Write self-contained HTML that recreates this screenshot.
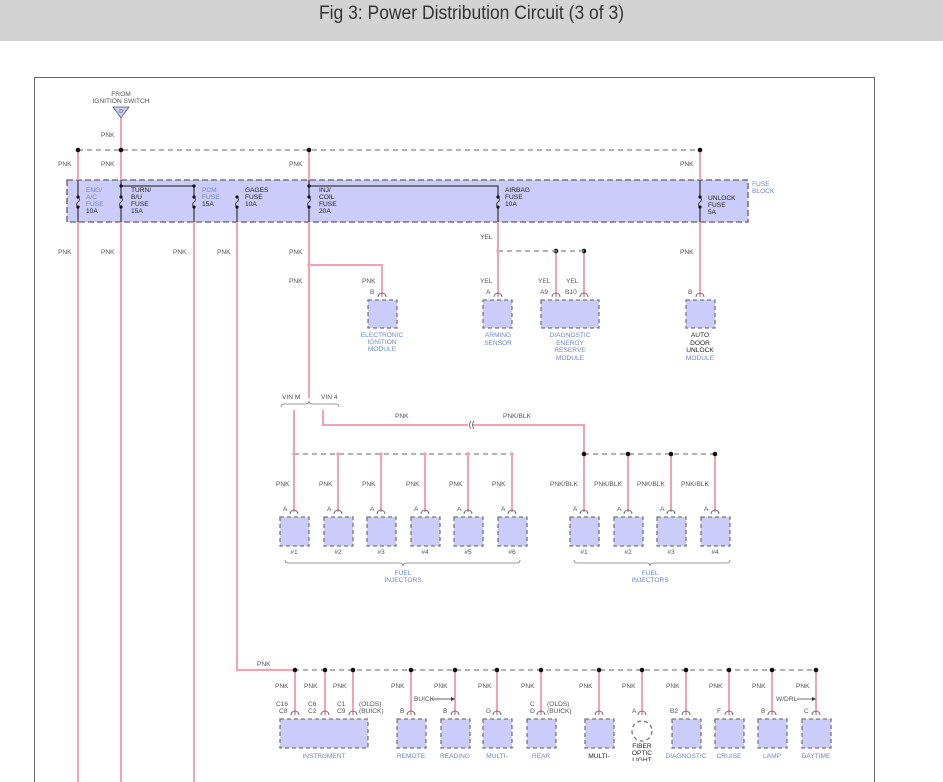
<!DOCTYPE html>
<html><head><meta charset="utf-8"><style>
html,body{margin:0;padding:0;background:#fff;}
body{width:943px;height:782px;overflow:hidden;position:relative;font-family:"Liberation Sans",sans-serif;}
.hdr{position:absolute;left:0;top:0;width:943px;height:41px;background:#d3d3d3;}
.hdr div{position:absolute;left:0;width:943px;top:3px;text-align:center;font-size:19px;color:#333;transform:scaleX(0.92);}
svg{position:absolute;left:0;top:0;}
svg text{font-family:"Liberation Sans",sans-serif;font-size:6.6px;fill:#555;}
.b{fill:#6f86c9 !important;}
.k{fill:#222 !important;}
.w{stroke:#f7a0b0;stroke-width:2;fill:none;}
.bl{stroke:#555;stroke-width:1.5;fill:none;}
.ds{stroke:#999;stroke-width:1.5;stroke-dasharray:5,4;fill:none;}
.bx{fill:#ccccfa;stroke:#777;stroke-width:1.3;stroke-dasharray:4,3;}
.c{fill:none;stroke:#555;stroke-width:0.8;}
</style></head><body>
<div class="hdr"><div>Fig 3: Power Distribution Circuit (3 of 3)</div></div>
<svg width="943" height="782" viewBox="0 0 943 782">
<path d="M34.5 782 V77.5 H874.5 V782" fill="none" stroke="#666" stroke-width="1"/>
<text x="121" y="96" text-anchor="middle">FROM</text>
<text x="121" y="103" text-anchor="middle">IGNITION SWITCH</text>
<path d="M113 107 H129 L121 118 Z" fill="#ccccfa" stroke="#555" stroke-width="0.8"/>
<text x="121" y="113" text-anchor="middle" style="font-size:5px">D</text>
<rect class="bx" x="67" y="180" width="681" height="42" style="stroke-width:1.6;stroke-dasharray:6,3"/>
<text x="752" y="186" class="b">FUSE</text><text x="752" y="193" class="b">BLOCK</text>
<path class="ds" d="M78 150 H700"/>
<path class="w" d="M121 118 V180 M78 150 V180 M309 150 V180 M700 150 V180"/>
<path class="w" d="M78 222 V782 M121 222 V782 M194 222 V782 M237 222 V670 H294 M309 222 V398 M498 222 V297 M700 222 V297"/>
<path class="w" d="M309 265 H382 V297 M556 251 V297 M584 251 V297"/>
<path class="bl" d="M78 180 V196 M78 207 V222 M121 180 V196 M121 207 V222 M121 186 H194 V196 M194 207 V222 M237 207 V222 M309 180 V196 M309 207 V222 M309 186 H498 V196 M498 207 V222 M700 180 V196 M700 207 V222"/>
<g fill="none" stroke="#444" stroke-width="1">
<path d="M78 197 q3 2.5 0 5 q-3 2.5 0 5"/><path d="M121 197 q3 2.5 0 5 q-3 2.5 0 5"/><path d="M194 197 q3 2.5 0 5 q-3 2.5 0 5"/><path d="M237 197 q3 2.5 0 5 q-3 2.5 0 5"/><path d="M309 197 q3 2.5 0 5 q-3 2.5 0 5"/><path d="M498 197 q3 2.5 0 5 q-3 2.5 0 5"/><path d="M700 197 q3 2.5 0 5 q-3 2.5 0 5"/>
</g>
<g fill="#111">
<circle cx="78" cy="150" r="2.3"/><circle cx="121" cy="150" r="2.3"/><circle cx="309" cy="150" r="2.3"/><circle cx="700" cy="150" r="2.3"/>
<circle cx="121" cy="186" r="1.6"/><circle cx="194" cy="186" r="1.6"/><circle cx="309" cy="186" r="1.6"/>
<circle cx="78" cy="197" r="1.6"/><circle cx="78" cy="207" r="1.6"/><circle cx="121" cy="197" r="1.6"/><circle cx="121" cy="207" r="1.6"/><circle cx="194" cy="197" r="1.6"/><circle cx="194" cy="207" r="1.6"/><circle cx="237" cy="197" r="1.6"/><circle cx="237" cy="207" r="1.6"/><circle cx="309" cy="197" r="1.6"/><circle cx="309" cy="207" r="1.6"/><circle cx="498" cy="197" r="1.6"/><circle cx="498" cy="207" r="1.6"/><circle cx="700" cy="197" r="1.6"/><circle cx="700" cy="207" r="1.6"/>
<circle cx="556" cy="251" r="2.3"/><circle cx="584" cy="251" r="2.3"/>
</g>
<path class="ds" d="M498 251 H584"/>
<circle cx="498" cy="251" r="1.8" fill="#f7a0b0"/><circle cx="309" cy="265" r="1.8" fill="#f7a0b0"/>
<text x="86" y="192" class="b">ENG/</text><text x="86" y="199" class="b">A/C</text><text x="86" y="206" class="b">FUSE</text><text x="86" y="213" class="k">10A</text>
<text x="131" y="192" class="k">TURN/</text><text x="131" y="199" class="k">B/U</text><text x="131" y="206" class="k">FUSE</text><text x="131" y="213" class="k">15A</text>
<text x="202" y="192" class="b">PCM</text><text x="202" y="199" class="b">FUSE</text><text x="202" y="206" class="k">15A</text>
<text x="245" y="192" class="k">GAGES</text><text x="245" y="199" class="k">FUSE</text><text x="245" y="206" class="k">10A</text>
<text x="319" y="192" class="k">INJ/</text><text x="319" y="199" class="k">COIL</text><text x="319" y="206" class="k">FUSE</text><text x="319" y="213" class="k">20A</text>
<text x="505" y="192" class="k">AIRBAG</text><text x="505" y="199" class="k">FUSE</text><text x="505" y="206" class="k">10A</text>
<text x="708" y="200" class="k">UNLOCK</text><text x="708" y="207" class="k">FUSE</text><text x="708" y="214" class="k">5A</text>
<g>
<text x="101" y="137">PNK</text><text x="58" y="166">PNK</text><text x="101" y="166">PNK</text><text x="289" y="166">PNK</text><text x="680" y="166">PNK</text>
<text x="58" y="254">PNK</text><text x="101" y="254">PNK</text><text x="173" y="254">PNK</text><text x="217" y="254">PNK</text><text x="289" y="254">PNK</text><text x="680" y="254">PNK</text>
<text x="289" y="283">PNK</text><text x="362" y="283">PNK</text>
<text x="480" y="239">YEL</text><text x="480" y="283">YEL</text><text x="538" y="283">YEL</text><text x="566" y="283">YEL</text>
<text x="257" y="666">PNK</text>
</g>
<g>
<text x="370" y="294">B</text><path class="c" d="M378 297 a4 4 0 0 1 8 0"/><rect class="bx" x="368" y="300" width="29" height="28"/>
<text x="382" y="337" text-anchor="middle" class="b">ELECTRONIC</text><text x="382" y="344" text-anchor="middle" class="b">IGNITION</text><text x="382" y="351" text-anchor="middle" class="b">MODULE</text>
<text x="486" y="294">A</text><path class="c" d="M494 297 a4 4 0 0 1 8 0"/><rect class="bx" x="483" y="300" width="29" height="28"/>
<text x="498" y="337" text-anchor="middle" class="b">ARMING</text><text x="498" y="345" text-anchor="middle" class="b">SENSOR</text>
<text x="540" y="294">A9</text><text x="565" y="294">B10</text><path class="c" d="M552 297 a4 4 0 0 1 8 0 M580 297 a4 4 0 0 1 8 0"/><rect class="bx" x="541" y="300" width="58" height="28"/>
<text x="570" y="337" text-anchor="middle" class="b">DIAGNOSTIC</text><text x="570" y="345" text-anchor="middle" class="b">ENERGY</text><text x="570" y="352" text-anchor="middle" class="b">RESERVE</text><text x="570" y="360" text-anchor="middle" class="b">MODULE</text>
<text x="688" y="294">B</text><path class="c" d="M696 297 a4 4 0 0 1 8 0"/><rect class="bx" x="686" y="300" width="29" height="28"/>
<text x="700" y="337" text-anchor="middle" class="k">AUTO</text><text x="700" y="345" text-anchor="middle" class="k">DOOR</text><text x="700" y="352" text-anchor="middle" class="k">UNLOCK</text><text x="700" y="360" text-anchor="middle" class="b">MODULE</text>
</g>
<text x="282" y="399">VIN M</text><text x="321" y="399">VIN 4</text>
<path d="M281 407 q0 -3 3 -3 H306 q3 0 3 -3 q0 3 3 3 H336 q3 0 3 3" fill="none" stroke="#777" stroke-width="0.8"/>
<path class="w" d="M294 410 V512 M323 410 V425 H468 M473 425 H584 V512 M628 454 V512 M671 454 V512 M715 454 V512 M338 454 V512 M381 454 V512 M425 454 V512 M468 454 V512 M512 454 V512"/>
<path d="M471 421 q-3 4 0 8 M474 421 q-3 4 0 8" fill="none" stroke="#555" stroke-width="0.8"/>
<text x="395" y="418">PNK</text><text x="503" y="418">PNK/BLK</text>
<path class="ds" d="M294 454 H512 M584 454 H715"/>
<g fill="#f7a0b0"><circle cx="294" cy="454" r="1.8"/><circle cx="338" cy="454" r="1.8"/><circle cx="381" cy="454" r="1.8"/><circle cx="425" cy="454" r="1.8"/><circle cx="468" cy="454" r="1.8"/><circle cx="512" cy="454" r="1.8"/></g>
<g fill="#111"><circle cx="584" cy="454" r="2.3"/><circle cx="628" cy="454" r="2.3"/><circle cx="671" cy="454" r="2.3"/><circle cx="715" cy="454" r="2.3"/></g>
<g>
<text x="276" y="486">PNK</text><text x="319" y="486">PNK</text><text x="362" y="486">PNK</text><text x="406" y="486">PNK</text><text x="449" y="486">PNK</text><text x="492" y="486">PNK</text>
<text x="550" y="486">PNK/BLK</text><text x="594" y="486">PNK/BLK</text><text x="637" y="486">PNK/BLK</text><text x="681" y="486">PNK/BLK</text>
</g>
<g>
<text x="283" y="511">A</text><path class="c" d="M290 514 a4 4 0 0 1 8 0"/><rect class="bx" x="280" y="517" width="29" height="29"/><text x="294" y="554" text-anchor="middle">#1</text>
<text x="327" y="511">A</text><path class="c" d="M334 514 a4 4 0 0 1 8 0"/><rect class="bx" x="324" y="517" width="29" height="29"/><text x="338" y="554" text-anchor="middle">#2</text>
<text x="370" y="511">A</text><path class="c" d="M377 514 a4 4 0 0 1 8 0"/><rect class="bx" x="367" y="517" width="29" height="29"/><text x="381" y="554" text-anchor="middle">#3</text>
<text x="414" y="511">A</text><path class="c" d="M421 514 a4 4 0 0 1 8 0"/><rect class="bx" x="411" y="517" width="29" height="29"/><text x="425" y="554" text-anchor="middle">#4</text>
<text x="457" y="511">A</text><path class="c" d="M464 514 a4 4 0 0 1 8 0"/><rect class="bx" x="454" y="517" width="29" height="29"/><text x="468" y="554" text-anchor="middle">#5</text>
<text x="501" y="511">A</text><path class="c" d="M508 514 a4 4 0 0 1 8 0"/><rect class="bx" x="498" y="517" width="29" height="29"/><text x="512" y="554" text-anchor="middle">#6</text>
<text x="573" y="511">A</text><path class="c" d="M580 514 a4 4 0 0 1 8 0"/><rect class="bx" x="570" y="517" width="29" height="29"/><text x="584" y="554" text-anchor="middle">#1</text>
<text x="617" y="511">A</text><path class="c" d="M624 514 a4 4 0 0 1 8 0"/><rect class="bx" x="614" y="517" width="29" height="29"/><text x="628" y="554" text-anchor="middle">#2</text>
<text x="660" y="511">A</text><path class="c" d="M667 514 a4 4 0 0 1 8 0"/><rect class="bx" x="657" y="517" width="29" height="29"/><text x="671" y="554" text-anchor="middle">#3</text>
<text x="704" y="511">A</text><path class="c" d="M711 514 a4 4 0 0 1 8 0"/><rect class="bx" x="701" y="517" width="29" height="29"/><text x="715" y="554" text-anchor="middle">#4</text>
</g>
<path d="M285 560 q0 3 3 3 H400 q3 0 3 3 q0 -3 3 -3 H517 q3 0 3 -3 M574 560 q0 3 3 3 H647 q3 0 3 3 q0 -3 3 -3 H727 q3 0 3 -3" fill="none" stroke="#777" stroke-width="0.8"/>
<text x="403" y="575" text-anchor="middle" class="b">FUEL</text><text x="403" y="582" text-anchor="middle" class="b">INJECTORS</text>
<text x="650" y="575" text-anchor="middle" class="b">FUEL</text><text x="650" y="582" text-anchor="middle" class="b">INJECTORS</text>
<path class="ds" d="M294 670 H816"/>
<path class="w" d="M295 670 V715 M325 670 V715 M353 670 V715 M411 670 V715 M455 670 V715 M497 670 V715 M541 670 V715 M599 670 V715 M642 670 V715 M686 670 V715 M729 670 V715 M772 670 V715 M816 670 V715"/>
<g fill="#111"><circle cx="295" cy="670" r="2.3"/><circle cx="325" cy="670" r="2.3"/><circle cx="353" cy="670" r="2.3"/><circle cx="411" cy="670" r="2.3"/><circle cx="455" cy="670" r="2.3"/><circle cx="497" cy="670" r="2.3"/><circle cx="541" cy="670" r="2.3"/><circle cx="599" cy="670" r="2.3"/><circle cx="642" cy="670" r="2.3"/><circle cx="686" cy="670" r="2.3"/><circle cx="729" cy="670" r="2.3"/><circle cx="772" cy="670" r="2.3"/><circle cx="816" cy="670" r="2.3"/></g>
<g>
<text x="275" y="688">PNK</text><text x="304" y="688">PNK</text><text x="333" y="688">PNK</text><text x="391" y="688">PNK</text><text x="434" y="688">PNK</text><text x="478" y="688">PNK</text><text x="521" y="688">PNK</text><text x="579" y="688">PNK</text><text x="622" y="688">PNK</text><text x="666" y="688">PNK</text><text x="709" y="688">PNK</text><text x="752" y="688">PNK</text><text x="796" y="688">PNK</text>
<text x="276" y="706">C16</text><text x="279" y="713">C8</text><text x="308" y="706">C6</text><text x="308" y="713">C2</text><text x="337" y="706">C1</text><text x="337" y="713">C9</text><text x="359" y="706">(OLDS)</text><text x="359" y="713">(BUICK)</text>
<text x="400" y="713">B</text>
<text x="414" y="701">BUICK</text><path d="M432 699 H451" stroke="#333" stroke-width="0.7"/><path d="M451 697 L455 699 L451 701 Z" fill="#333"/>
<text x="443" y="713">B</text><text x="486" y="713">G</text><text x="530" y="706">C</text><text x="530" y="713">D</text><text x="547" y="706">(OLDS)</text><text x="547" y="713">(BUICK)</text>
<text x="632" y="713">A</text><text x="670" y="713">B2</text><text x="717" y="713">F</text><text x="761" y="713">B</text><text x="804" y="713">C</text>
<text x="776" y="701">W/DRL</text><path d="M797 699 H812" stroke="#333" stroke-width="0.7"/><path d="M812 697 L816 699 L812 701 Z" fill="#333"/>
</g>
<g>
<path class="c" d="M291 715 a4 4 0 0 1 8 0 M321 715 a4 4 0 0 1 8 0 M349 715 a4 4 0 0 1 8 0 M407 715 a4 4 0 0 1 8 0 M451 715 a4 4 0 0 1 8 0 M493 715 a4 4 0 0 1 8 0 M537 715 a4 4 0 0 1 8 0 M595 715 a4 4 0 0 1 8 0 M638 715 a4 4 0 0 1 8 0 M682 715 a4 4 0 0 1 8 0 M725 715 a4 4 0 0 1 8 0 M768 715 a4 4 0 0 1 8 0 M812 715 a4 4 0 0 1 8 0"/>
<rect class="bx" x="280" y="719" width="88" height="29"/>
<rect class="bx" x="397" y="719" width="29" height="29"/><rect class="bx" x="441" y="719" width="29" height="29"/><rect class="bx" x="483" y="719" width="29" height="29"/><rect class="bx" x="527" y="719" width="29" height="29"/><rect class="bx" x="585" y="719" width="29" height="29"/>
<circle cx="642" cy="731" r="10" fill="#fff" stroke="#777" stroke-width="1.3" stroke-dasharray="4,3"/>
<rect class="bx" x="672" y="719" width="29" height="29"/><rect class="bx" x="715" y="719" width="29" height="29"/><rect class="bx" x="758" y="719" width="29" height="29"/><rect class="bx" x="802" y="719" width="29" height="29"/>
<text x="324" y="758" text-anchor="middle" class="b">INSTRUMENT</text><text x="411" y="758" text-anchor="middle" class="b">REMOTE</text><text x="455" y="758" text-anchor="middle" class="b">READING</text><text x="497" y="758" text-anchor="middle" class="b">MULTI-</text><text x="541" y="758" text-anchor="middle" class="b">REAR</text><text x="599" y="758" text-anchor="middle" class="k">MULTI-</text>
<text x="642" y="748" text-anchor="middle" class="k">FIBER</text><text x="642" y="755" text-anchor="middle" class="k">OPTIC</text><text x="642" y="762" text-anchor="middle" class="k">LIGHT</text>
<text x="686" y="758" text-anchor="middle" class="b">DIAGNOSTIC</text><text x="729" y="758" text-anchor="middle" class="b">CRUISE</text><text x="772" y="758" text-anchor="middle" class="b">LAMP</text><text x="816" y="758" text-anchor="middle" class="b">DAYTIME</text>
</g>
<rect x="600" y="761" width="90" height="21" fill="#fff"/>
</svg>
</body></html>
